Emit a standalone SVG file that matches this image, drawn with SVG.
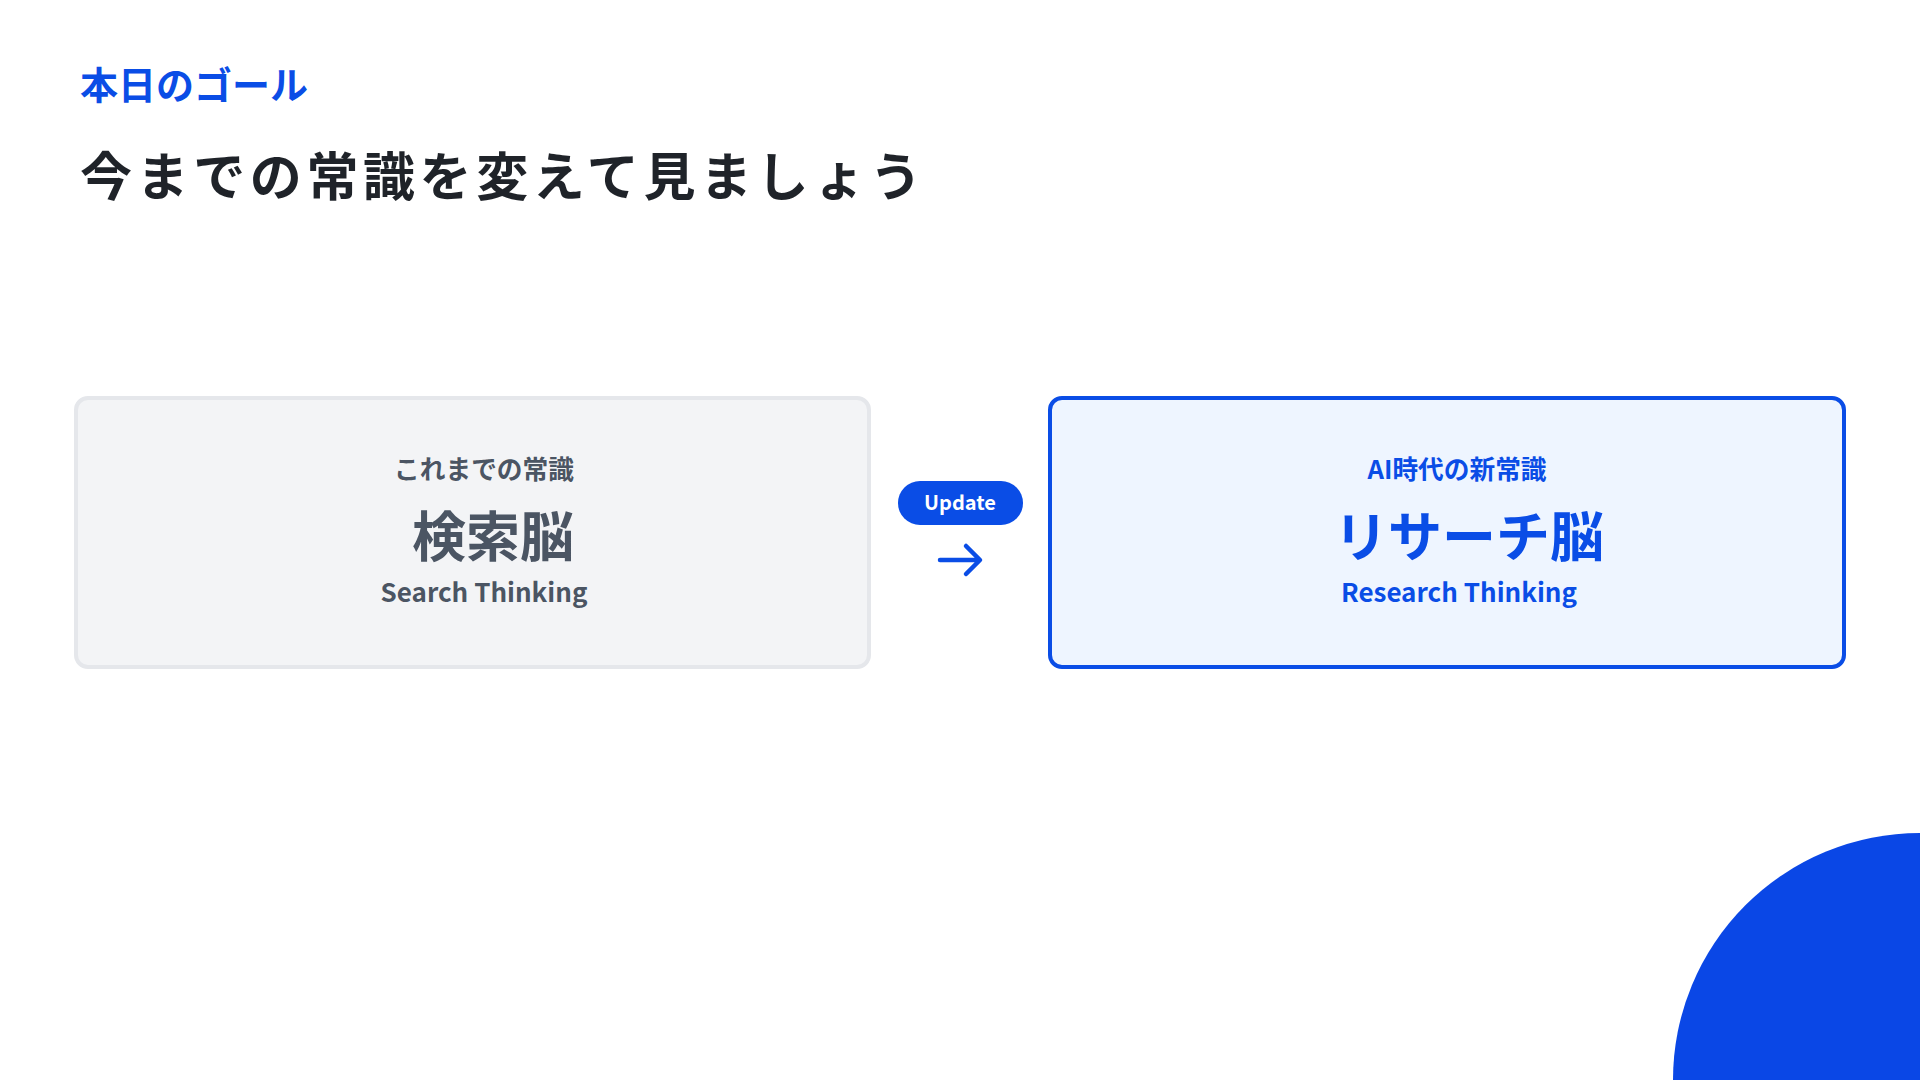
<svg xmlns="http://www.w3.org/2000/svg" width="1920" height="1080" viewBox="0 0 1920 1080">
<style>
text{font-family:"Noto Sans CJK JP","Noto Sans",sans-serif;}
.eyebrow{font-size:38px;font-weight:700;fill:#0A4DE6;}
.title{font-size:52px;font-weight:700;fill:#1f2329;letter-spacing:4.6px;}
.sub{font-size:25.7px;font-weight:700;text-anchor:middle;}
.big{font-size:54px;font-weight:700;text-anchor:middle;}
.en{font-size:26px;font-weight:600;text-anchor:middle;}
.gray{fill:#4b5563;}
.blue{fill:#0A4DE6;}
</style>
<rect width="1920" height="1080" fill="#ffffff"/>
<circle cx="1920" cy="1080" r="247" fill="#0A47E6"/>
<text class="eyebrow" x="80" y="99">本日のゴール</text>
<text class="title" x="80" y="196">今までの常識を変えて見ましょう</text>
<g id="node-old">
<rect x="76" y="398" width="793" height="269" rx="12" fill="#f3f4f6" stroke="#e5e7eb" stroke-width="4"/>
<text class="sub gray" x="484" y="479">これまでの常識</text>
<text class="big gray" x="493" y="557">検索脳</text>
<text class="en gray" x="484" y="602">Search Thinking</text>
</g>
<g id="node-new">
<rect x="1050" y="398" width="794" height="269" rx="12" fill="#eef5ff" stroke="#0A4DE6" stroke-width="4"/>
<text class="sub blue" x="1457" y="479">AI時代の新常識</text>
<text class="big blue" x="1469" y="557">リサーチ脳</text>
<text class="en blue" x="1459" y="602">Research Thinking</text>
</g>
<g id="connectors">
<rect x="898" y="481" width="125" height="44" rx="22" fill="#0A4DE6"/>
<text x="960" y="510" font-size="20" font-weight="700" fill="#ffffff" text-anchor="middle">Update</text>
<path d="M940 560 H979 M966 546 L980 560 L966 574" fill="none" stroke="#0A4DE6" stroke-width="4.5" stroke-linecap="round" stroke-linejoin="round"/>
</g>
</svg>
